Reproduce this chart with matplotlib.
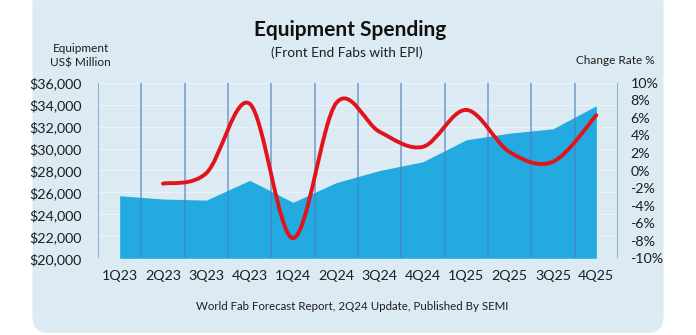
import matplotlib
matplotlib.use("Agg")
import matplotlib.pyplot as plt
from matplotlib.patches import FancyBboxPatch
from matplotlib.path import Path
from matplotlib.patches import PathPatch
import matplotlib.transforms as mtransforms
import numpy as np

plt.rcParams['font.family'] = ['Lato', 'DejaVu Sans']

categories = ["1Q23", "2Q23", "3Q23", "4Q23", "1Q24", "2Q24", "3Q24", "4Q24",
              "1Q25", "2Q25", "3Q25", "4Q25"]
spending = [25700, 25400, 25300, 27100, 25100, 26900, 28000, 28800,
            30800, 31400, 31800, 33900]
# change rate % starts at 2Q23
change_rate = [-1.5, -0.3, 7.6, -7.7, 7.7, 4.4, 2.7, 6.9, 2.1, 1.0, 6.3]
left_ticks = list(range(20000, 36001, 2000))
right_ticks = list(range(-10, 11, 2))

BG = "#dbeaf3"
AREA = "#22aae1"
RED = "#e2141b"
VLINE = "#4f7fbf"
TXT = "#1e1e1e"

fig = plt.figure(figsize=(6.96, 3.35), dpi=100)
fig.patch.set_facecolor("white")

# rounded background panel (pixel coordinates)
panel = FancyBboxPatch((32.5, 2), 631, 345, boxstyle="round,pad=0,rounding_size=16",
                       transform=mtransforms.IdentityTransform(),
                       facecolor=BG, edgecolor="none", zorder=-10)
fig.patches.append(panel)

ax = fig.add_axes([98 / 696, 76.7 / 335, 520 / 696, 175.6 / 335])
ax.set_facecolor("none")
x = np.arange(len(categories))
ax.fill_between(x, 20000, spending, color=AREA, lw=0, zorder=1)
ax.set_xlim(-0.5, len(categories) - 0.5)
ax.set_ylim(20000, 36000)
ax.set_yticks(left_ticks)
ax.set_yticklabels([f"${v:,}" for v in left_ticks])
ax.set_xticks(x)
ax.set_xticklabels(categories)
for yv in left_ticks:
    ax.axhline(yv, color="white", lw=0.9, alpha=0.45, zorder=0.5)
for xv in np.arange(-0.5, len(categories), 1.0):
    ax.axvline(xv, color=VLINE, lw=1.1, alpha=0.75, zorder=2)
for s in ax.spines.values():
    s.set_visible(False)
ax.tick_params(axis="y", length=0, pad=11.5, labelsize=10.3, labelcolor=TXT)
ax.tick_params(axis="x", length=0, pad=8.5, labelsize=10.3, labelcolor=TXT)

ax2 = ax.twinx()
ax2.set_ylim(-10, 10)
ax2.set_yticks(right_ticks)
ax2.set_yticklabels([f"{v}%" for v in right_ticks])
for s in ax2.spines.values():
    s.set_visible(False)
ax2.tick_params(axis="y", length=0, pad=9, labelsize=10.3, labelcolor=TXT)

# smoothed line (Excel-style Catmull-Rom bezier)
px = list(x[1:].astype(float))
py = list(change_rate)
n = len(px)
verts = [(px[0], py[0])]
codes = [Path.MOVETO]
for i in range(n - 1):
    p0 = (px[max(i - 1, 0)], py[max(i - 1, 0)])
    p1 = (px[i], py[i])
    p2 = (px[i + 1], py[i + 1])
    p3 = (px[min(i + 2, n - 1)], py[min(i + 2, n - 1)])
    c1 = (p1[0] + (p2[0] - p0[0]) / 6, p1[1] + (p2[1] - p0[1]) / 6)
    c2 = (p2[0] - (p3[0] - p1[0]) / 6, p2[1] - (p3[1] - p1[1]) / 6)
    verts += [c1, c2, p2]
    codes += [Path.CURVE4] * 3
ax2.add_patch(PathPatch(Path(verts, codes), facecolor="none", edgecolor=RED,
                        lw=2.8, capstyle="round", joinstyle="round", zorder=5))

fig.text(350 / 696, 1 - 30 / 335, "Equipment Spending", ha="center", va="center",
         fontsize=15, fontweight="bold", color="#111111")
fig.text(347 / 696, 1 - 53 / 335, "(Front End Fabs with EPI)", ha="center", va="center",
         fontsize=9.8, color=TXT)
fig.text(80.5 / 696, 1 - 56 / 335, "Equipment\nUS$ Million", ha="center", va="center",
         fontsize=8.5, color=TXT, linespacing=1.35)
fig.text(615 / 696, 1 - 61 / 335, "Change Rate %", ha="center", va="center",
         fontsize=8.5, color=TXT)
fig.text(352 / 696, 1 - 306.5 / 335,
         "World Fab Forecast Report, 2Q24 Update, Published By SEMI",
         ha="center", va="center", fontsize=8.3, color=TXT)

fig.savefig("out.png", dpi=100, facecolor="white")
